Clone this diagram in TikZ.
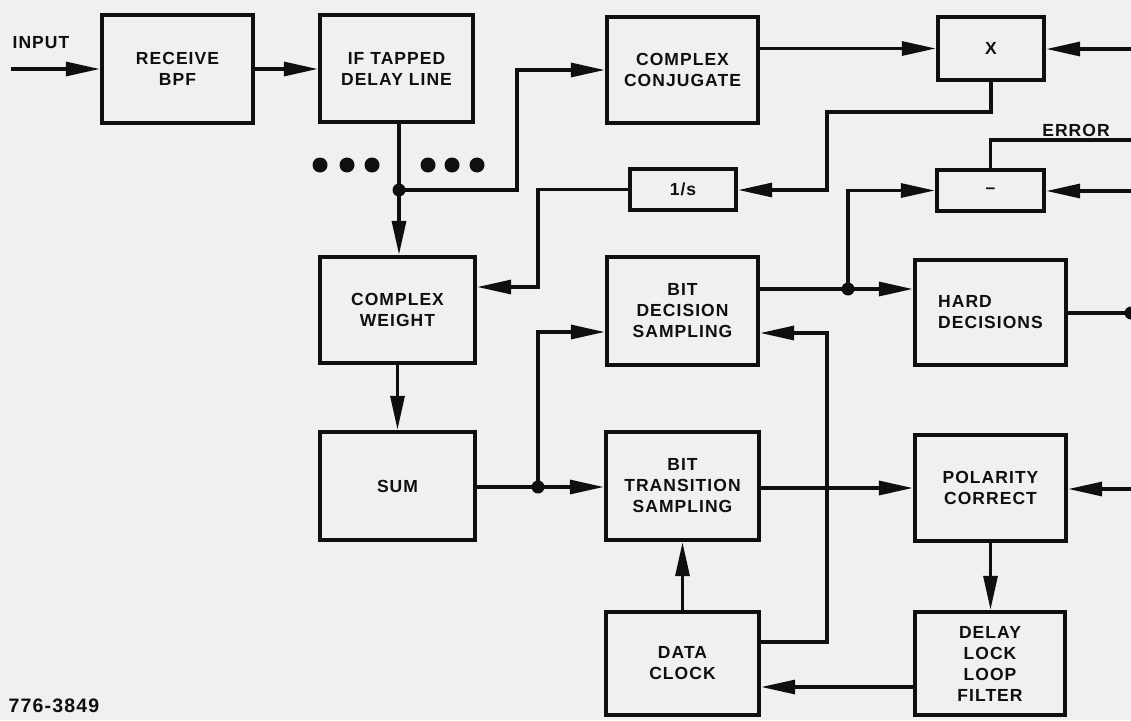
\documentclass[tikz,border=0pt]{standalone}
\usepackage{fontspec}
\setmainfont{Liberation Sans}[LetterSpace=6]
\usetikzlibrary{arrows.meta,calc}
\definecolor{bg}{RGB}{240,240,240}
\definecolor{ink}{RGB}{15,15,15}
\begin{document}
\begin{tikzpicture}[x=1pt,y=-1pt,
  box/.style={draw=ink,line width=4.4pt,inner sep=0pt,align=center,text=ink,
    font=\bfseries\fontsize{17.5}{21}\selectfont},
  lbl/.style={inner sep=0pt,text=ink,font=\bfseries\fontsize{17.5}{21}\selectfont},
  wire/.style={draw=ink,line width=3.2pt},
  arr/.style={wire,-{Triangle[length=34pt,width=14pt]}},
  jdot/.style={circle,fill=ink,inner sep=0pt,minimum size=13pt},
  tdot/.style={circle,fill=ink,inner sep=0pt,minimum size=15pt}]
\fill[bg] (0,0) rectangle (1131,720);
\useasboundingbox (0,0) rectangle (1131,720);

% boxes
\node[box,minimum width=151,minimum height=108] (rbpf) at (177.5,69) {RECEIVE\\BPF};
\node[box,minimum width=153,minimum height=107] (ifdl) at (396.5,68.5) {IF TAPPED\\DELAY LINE};
\node[box,minimum width=151,minimum height=106] (cc) at (682.5,70) {COMPLEX\\CONJUGATE};
\node[box,minimum width=106,minimum height=63] (x) at (991,48.5) {X};
\node[box,minimum width=106,minimum height=41] (inv) at (683,189.5) {1/s};
\node[box,minimum width=107,minimum height=41] (minus) at (990.5,190.5) {\textendash};
\node[box,minimum width=155,minimum height=106] (cw) at (397.5,310) {COMPLEX\\WEIGHT};
\node[box,minimum width=151,minimum height=108] (bd) at (682.5,311) {BIT\\DECISION\\SAMPLING};
\node[box,minimum width=151,minimum height=105,align=left] (hd) at (990.5,312.5) {HARD\\DECISIONS};
\node[box,minimum width=155,minimum height=108] (sum) at (397.5,486) {SUM};
\node[box,minimum width=153,minimum height=108] (bts) at (682.5,486) {BIT\\TRANSITION\\SAMPLING};
\node[box,minimum width=151,minimum height=106] (pc) at (990.5,488) {POLARITY\\CORRECT};
\node[box,minimum width=153,minimum height=103] (dc) at (682.5,663.5) {DATA\\CLOCK};
\node[box,minimum width=150,minimum height=103] (dllf) at (990,663.5) {DELAY\\LOCK\\LOOP\\FILTER};

% labels
\node[lbl] (tin) at (41,43) {INPUT};
\node[lbl] (terr) at (1076,130) {ERROR};
\node[lbl,font=\bfseries\fontsize{19.5}{22}\selectfont] (tnum) at (54,706) {776-3849};

% coordinates
\coordinate (inp) at (11,69);
\coordinate (j1) at (399,190);
\coordinate (c1) at (517,190);
\coordinate (rx) at (1131,49);
\coordinate (c2a) at (991,112);
\coordinate (c2) at (827,190);
\coordinate (c3) at (538,287);
\coordinate (e2) at (1131,140);
\coordinate (rm) at (1131,191);
\coordinate (j2) at (848,289);
\coordinate (hdo) at (1131,313);
\coordinate (j3) at (538,487);
\coordinate (c4) at (538,332);
\coordinate (rpc) at (1131,489);
\coordinate (c5) at (827,333);
\coordinate (c6) at (827,642);
\coordinate (c7) at (900,687);

% connectors
\draw[arr] (inp) -- (rbpf.west);
\draw[arr] (rbpf.east) -- (rbpf.east -| ifdl.west);
\draw[wire] (ifdl.south -| j1) -- (j1);
\draw[arr] (j1) -- (j1 |- cw.north);
\draw[arr] (j1) -- (c1) |- (cc.west);
\draw[arr] (cc.east |- x.west) -- (x.west);
\draw[arr] (rx) -- (rx -| x.east);
\draw[arr] (x.south) -- (c2a) -| (c2) -- (c2 -| inv.east);
\draw[arr] (inv.west) -| (c3) -- (c3 -| cw.east);
\draw[wire] (minus.north) |- (e2);
\draw[arr] (rm) -- (rm -| minus.east);
\draw[wire] (bd.east |- j2) -- (j2);
\draw[arr] (j2) -- (j2 -| hd.west);
\draw[arr] (j2) |- (minus.west);
\draw[wire] (hd.east |- hdo) -- (hdo);
\draw[arr] (cw.south) -- (sum.north);
\draw[wire] (sum.east |- j3) -- (j3);
\draw[arr] (j3) -- (j3 -| bts.west);
\draw[arr] (j3) -- (c4) -- (c4 -| bd.west);
\draw[arr] (bts.east |- pc.west) -- (pc.west);
\draw[arr] (rpc) -- (rpc -| pc.east);
\draw[arr] (pc.south) -- (pc.south |- dllf.north);
\draw[arr] (dllf.west |- c7) -- (dc.east |- c7);
\draw[arr] (dc.north) -- (bts.south);
\draw[arr] (dc.east |- c6) -| (c5) -- (c5 -| bd.east);

% dots
\node[jdot] (dj1) at (j1) {};
\node[jdot] (dj2) at (j2) {};
\node[jdot] (dj3) at (j3) {};
\node[jdot] (dho) at (hdo) {};
\foreach \xx in {320,347,372,428,452,477} \node[tdot] (t\xx) at (\xx,165) {};
\end{tikzpicture}
\end{document}
